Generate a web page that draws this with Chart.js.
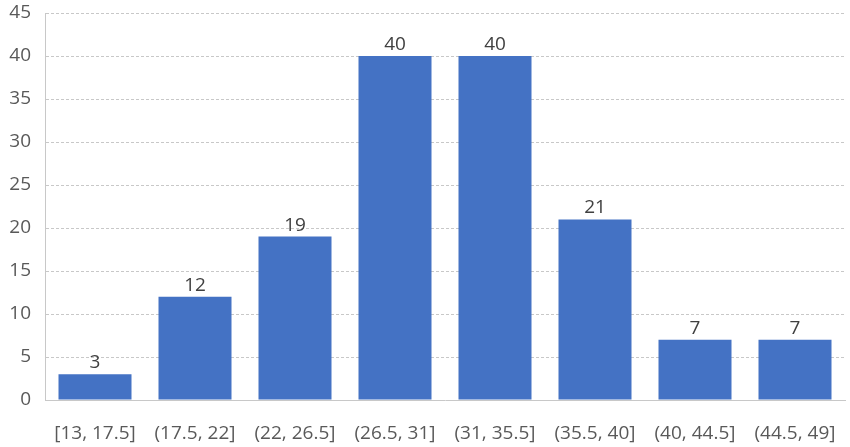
<!DOCTYPE html>
<html>
<head>
<meta charset="utf-8">
<script src="https://cdn.jsdelivr.net/npm/chart.js@4"></script>
<style>
  html, body { margin: 0; padding: 0; background: #fff; }
  #wrap { width: 850px; height: 447px; }
</style>
</head>
<body>
<div id="wrap"><canvas id="myChart"></canvas></div>
<script>
// histogram bins and counts
const bins = ['[13, 17.5]', '(17.5, 22]', '(22, 26.5]', '(26.5, 31]', '(31, 35.5]', '(35.5, 40]', '(40, 44.5]', '(44.5, 49]'];
const counts = [3, 12, 19, 40, 40, 21, 7, 7];
const yTicks = [0, 5, 10, 15, 20, 25, 30, 35, 40, 45];

const fontFamily = "'Open Sans', 'Liberation Sans', sans-serif";

// draws the count above each bar
const barLabels = {
  id: 'barLabels',
  afterDatasetsDraw(chart) {
    const ctx = chart.ctx;
    const meta = chart.getDatasetMeta(0);
    ctx.save();
    ctx.font = '19px ' + fontFamily;
    ctx.fillStyle = '#404040';
    ctx.textAlign = 'center';
    ctx.textBaseline = 'bottom';
    meta.data.forEach(function(bar, i) {
      ctx.fillText(counts[i], bar.x, bar.y - 2);
    });
    ctx.restore();
  }
};

new Chart(document.getElementById('myChart'), {
  type: 'bar',
  data: {
    labels: bins,
    datasets: [{
      data: counts,
      backgroundColor: '#4472C4',
      borderWidth: 0,
      barPercentage: 0.73,
      categoryPercentage: 1
    }]
  },
  options: {
    responsive: true,
    maintainAspectRatio: false,
    animation: false,
    layout: { padding: { top: 0, right: 5, left: 0, bottom: 0 } },
    plugins: {
      legend: { display: false },
      tooltip: { enabled: false }
    },
    scales: {
      x: {
        grid: { display: false },
        border: { display: true, color: '#c8c8c8', dash: [3, 2] },
        ticks: {
          color: '#595959',
          font: { family: fontFamily, size: 19 },
          maxRotation: 0,
          autoSkip: false,
          padding: 14
        },
        afterFit(scale) { scale.height = 47; }
      },
      y: {
        min: 0,
        max: 45,
        afterBuildTicks(scale) { scale.ticks = yTicks.map(v => ({ value: v })); },
        grid: { color: '#c8c8c8', drawTicks: false },
        border: { display: true, color: '#c8c8c8', dash: [3, 2] },
        ticks: {
          color: '#595959',
          font: { family: fontFamily, size: 19 },
          padding: 14
        },
        afterFit(scale) {
          scale.width = 45;
          scale.paddingTop = 13;
        }
      }
    }
  },
  plugins: [barLabels]
});
</script>
</body>
</html>
